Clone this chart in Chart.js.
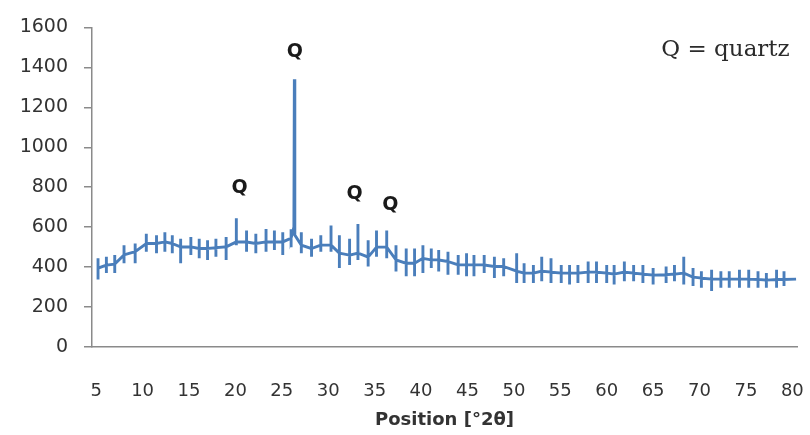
<!DOCTYPE html>
<html>
<head>
<meta charset="utf-8">
<script src="https://cdn.jsdelivr.net/npm/chart.js@4"></script>
<style>
  html, body { margin: 0; padding: 0; background: #fff; }
  #wrap { width: 810px; height: 435px; }
</style>
</head>
<body>
<div id="wrap"><canvas id="xrd" width="810" height="435"></canvas></div>
<script>
// noise ticks along the pattern: position (deg 2theta), top, bottom, baseline
var tickPos  = [5.2, 6.1, 7.0, 8.0, 9.2, 10.4, 11.5, 12.4, 13.2, 14.1, 15.2, 16.1, 17.0, 17.9, 19.0,
                20.1, 21.2, 22.2, 23.3, 24.2, 25.1, 26.0, 27.1, 28.2, 29.2, 30.3, 31.2, 32.3, 33.2, 34.3,
                35.2, 36.3, 37.3, 38.4, 39.3, 40.2, 41.1, 41.9, 42.9, 44.0, 44.9, 45.7, 46.8, 47.9, 48.9,
                50.3, 51.1, 52.1, 53.0, 54.0, 55.1, 56.0, 56.9, 58.0, 58.9, 60.0, 60.8, 61.9, 62.9, 63.9,
                65.0, 66.4, 67.3, 68.3, 69.3, 70.2, 71.3, 72.3, 73.2, 74.3, 75.3, 76.3, 77.2, 78.3, 79.1, 80.4];
var tickHigh = [444, 452, 461, 510, 518, 567, 559, 575, 559, 542, 551, 542, 534, 542, 551,
                645, 583, 567, 591, 583, 575, 590, 575, 542, 559, 608, 559, 542, 616, 534,
                583, 583, 510, 493, 493, 510, 493, 485, 477, 461, 469, 461, 461, 452, 444,
                469, 419, 411, 452, 444, 411, 411, 411, 428, 428, 411, 411, 428, 411, 411,
                395, 403, 411, 452, 395, 379, 387, 379, 379, 387, 387, 379, 370, 387, 379, 340];
var tickLow  = [338, 370, 370, 419, 419, 477, 469, 477, 469, 419, 461, 444, 436, 452, 436,
                510, 477, 469, 477, 485, 461, 500, 469, 452, 477, 477, 395, 411, 436, 403,
                452, 444, 378, 354, 354, 370, 395, 378, 362, 362, 354, 354, 370, 346, 354,
                321, 321, 321, 329, 321, 321, 313, 321, 321, 321, 321, 313, 329, 329, 321,
                313, 321, 329, 313, 305, 297, 280, 297, 297, 297, 297, 297, 297, 297, 305, 340];
var tickMid  = [395, 410, 415, 461, 477, 518, 518, 526, 518, 501, 501, 493, 493, 497, 501,
                526, 526, 518, 526, 526, 526, 545, 510, 493, 510, 510, 470, 460, 470, 450,
                500, 500, 436, 419, 419, 444, 436, 436, 428, 411, 411, 411, 411, 403, 403,
                380, 370, 370, 380, 375, 370, 370, 370, 375, 375, 370, 365, 375, 370, 365,
                360, 362, 365, 370, 350, 345, 340, 340, 340, 340, 340, 338, 335, 338, 338, 340];

// the main quartz reflection (foot, top, foot)
var peakPos = [26.3, 26.35, 26.4];
var peakVal = [600, 1340, 560];

var xTickValues = [5, 10, 15, 20, 25, 30, 35, 40, 45, 50, 55, 60, 65, 70, 75, 80];
var yTickValues = [0, 200, 400, 600, 800, 1000, 1200, 1400, 1600];

// labels placed in data coordinates
var labelText = ["Q", "Q", "Q", "Q", "Q = quartz"];
var labelX    = [26.4, 20.45, 32.85, 36.7, 72.8];
var labelY    = [1475, 796, 767, 713, 1485];

const AXIS_GREY = "#8a8a8a";
const LINE_BLUE = "#4a7ebb";

function buildPath() {
    var pts = [];
    for (let i = 0; i < tickPos.length; i++) {
        pts.push({x: tickPos[i], y: tickMid[i]});
        pts.push({x: tickPos[i], y: tickHigh[i]});
        pts.push({x: tickPos[i], y: tickLow[i]});
        pts.push({x: tickPos[i], y: tickMid[i]});
        for (let j = 0; j < peakPos.length; j++) {
            if (peakPos[j] > tickPos[i] && (i + 1 >= tickPos.length || peakPos[j] < tickPos[i + 1])) {
                pts.push({x: peakPos[j], y: peakVal[j]});
            }
        }
    }
    return pts;
}

var textPlugin = {
    id: "qLabels",
    afterDatasetsDraw(chart) {
        let ctx = chart.ctx;
        let xs = chart.scales.x;
        let ys = chart.scales.y;
        ctx.save();
        ctx.textAlign = "center";
        ctx.textBaseline = "middle";
        for (let i = 0; i < labelText.length; i++) {
            if (labelText[i].length > 1) {
                ctx.font = "23px 'DejaVu Serif'";
                ctx.fillStyle = "#2b2b2b";
            } else {
                ctx.font = "bold 19px 'DejaVu Sans'";
                ctx.fillStyle = "#1a1a1a";
            }
            ctx.fillText(labelText[i], xs.getPixelForValue(labelX[i]), ys.getPixelForValue(labelY[i]));
        }
        ctx.restore();
    }
};

var chart = new Chart(document.getElementById("xrd"), {
    type: "line",
    data: {
        datasets: [{
            data: buildPath(),
            borderColor: LINE_BLUE,
            borderWidth: 2.9,
            pointRadius: 0,
            tension: 0,
            fill: false,
        }],
    },
    options: {
        responsive: false,
        animation: false,
        layout: { padding: { top: 21, right: 13, left: 0, bottom: 0 } },
        plugins: { legend: { display: false }, tooltip: { enabled: false } },
        scales: {
            x: {
                type: "linear",
                min: 4.55,
                max: 80.5,
                afterBuildTicks: (scale) => { scale.ticks = xTickValues.map((v) => ({value: v})); },
                afterFit: (scale) => {
                    scale.height = 88;
                    scale.paddingLeft = 0;
                    scale.paddingRight = 0;
                },
                // invisible tick marks just push the labels down
                grid: { display: true, drawOnChartArea: false, drawTicks: true, tickLength: 32, color: "rgba(0,0,0,0)" },
                border: { color: AXIS_GREY, width: 1.5 },
                ticks: {
                    padding: 2,
                    maxRotation: 0,
                    autoSkip: false,
                    color: "#333",
                    font: { family: "'DejaVu Sans'", size: 18 },
                },
                title: {
                    display: true,
                    text: "Position [°2θ]",
                    color: "#333",
                    font: { family: "'DejaVu Sans'", size: 18, weight: "bold" },
                    padding: { top: 0, bottom: 4 },
                },
            },
            y: {
                type: "linear",
                min: 0,
                max: 1600,
                afterBuildTicks: (scale) => { scale.ticks = yTickValues.map((v) => ({value: v})); },
                afterFit: (scale) => { scale.width = 92; },
                grid: { display: true, drawOnChartArea: false, tickLength: 8, color: AXIS_GREY, lineWidth: 1.5 },
                border: { color: AXIS_GREY, width: 1.5 },
                ticks: {
                    padding: 16,
                    color: "#333",
                    font: { family: "'DejaVu Sans'", size: 19 },
                    callback: (v) => String(v),
                },
            },
        },
    },
    plugins: [textPlugin],
});
</script>
</body>
</html>
